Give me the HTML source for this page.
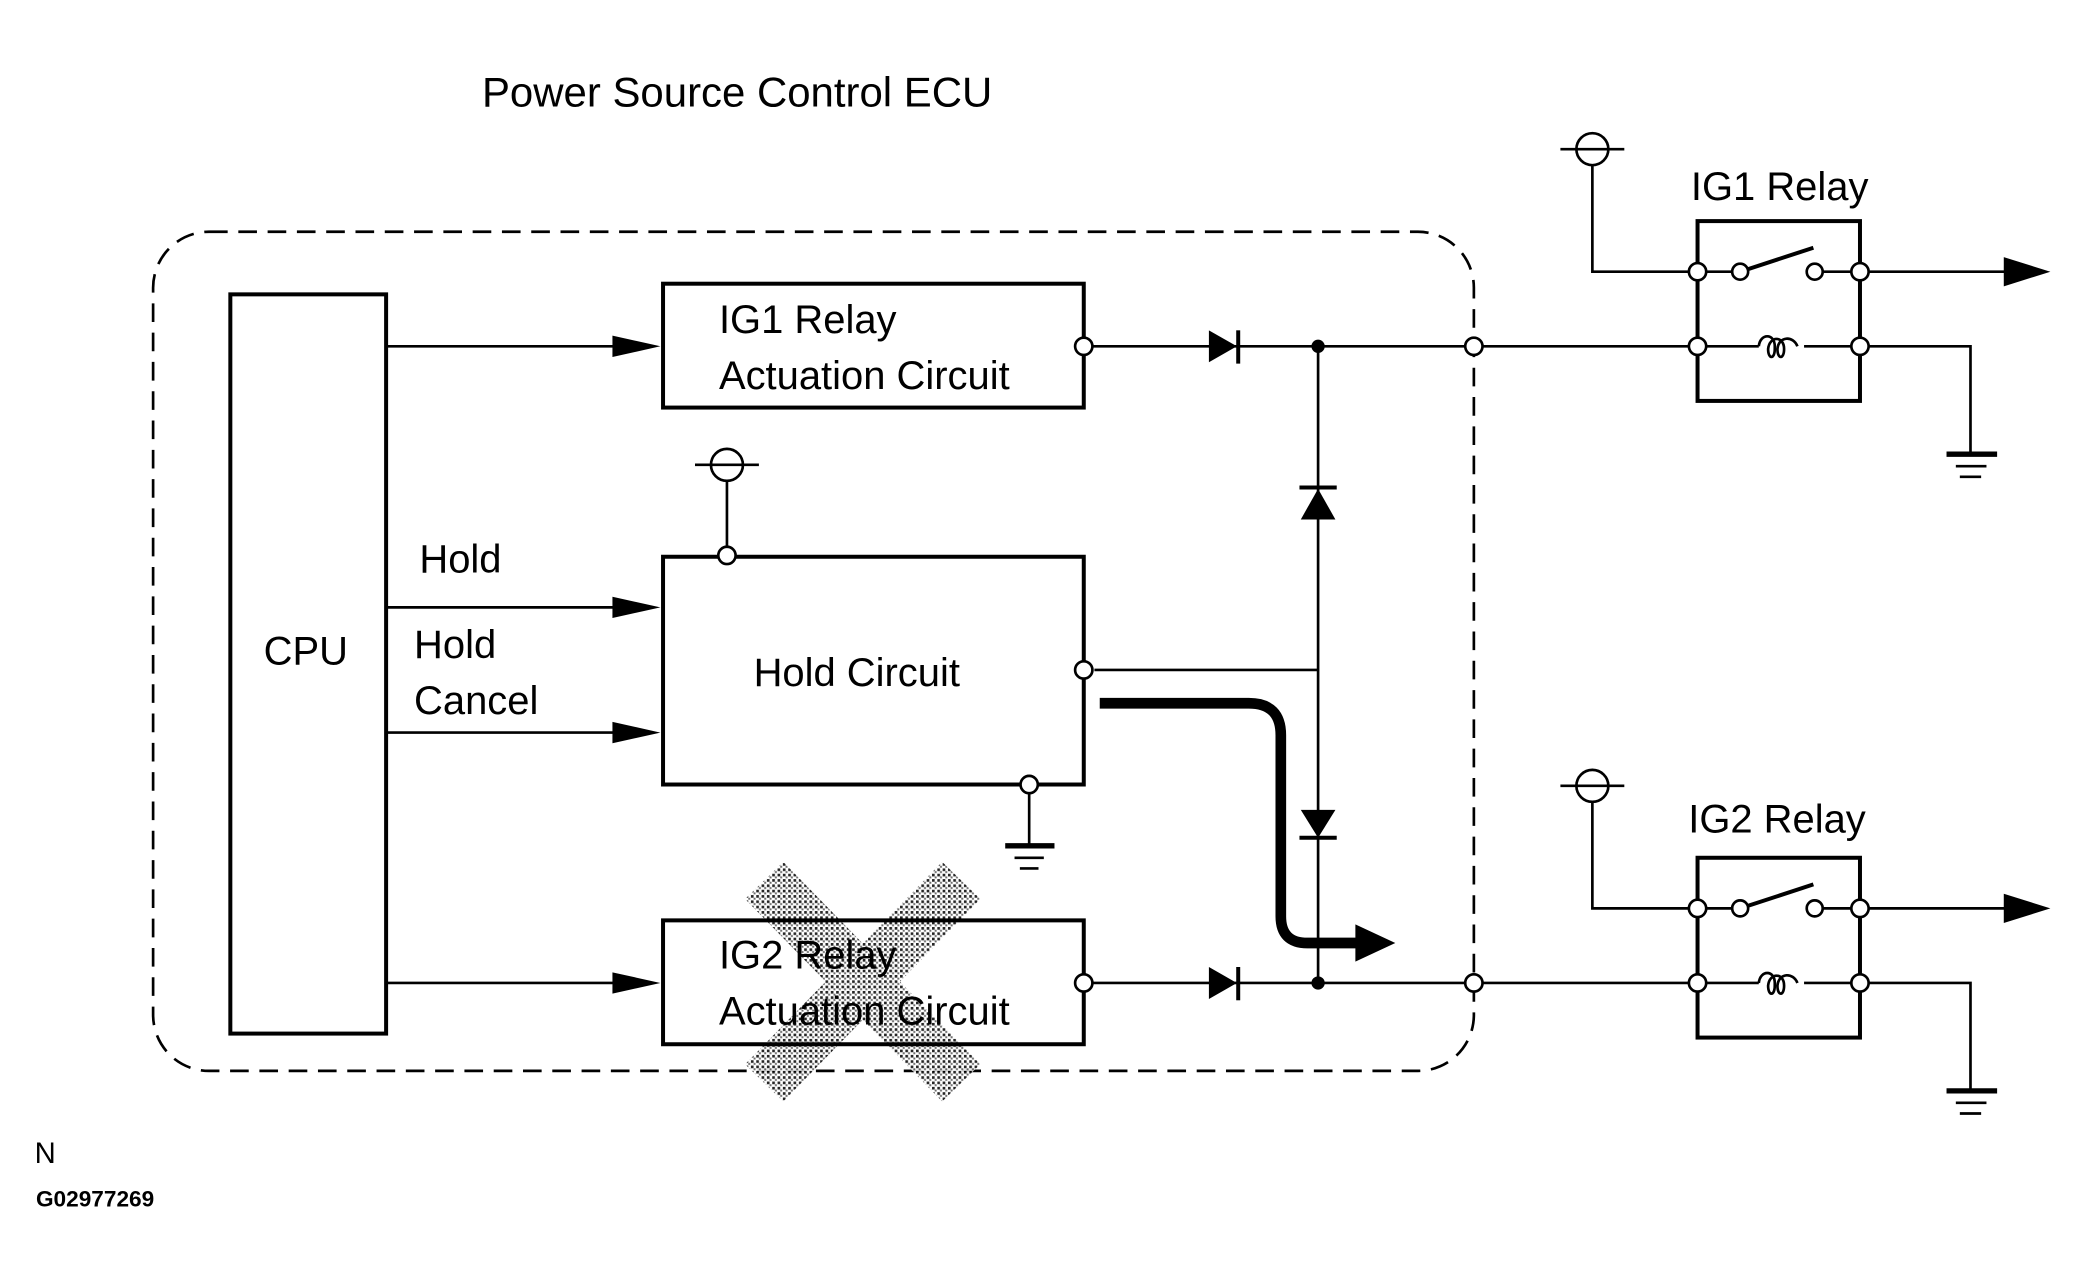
<!DOCTYPE html>
<html><head><meta charset="utf-8"><style>
html,body{margin:0;padding:0;background:#fff;}
svg{display:block;}
text{font-family:"Liberation Sans",sans-serif;fill:#000;}
</style></head><body>
<svg width="2077" height="1276" viewBox="0 0 1560 958" preserveAspectRatio="none" xmlns="http://www.w3.org/2000/svg">
<defs>
<pattern id="dots" width="4" height="4" patternUnits="userSpaceOnUse">
<rect width="4" height="4" fill="#fff"/>
<rect x="0" y="0" width="2" height="2" fill="#000"/>
<rect x="2" y="2" width="1.5" height="1.5" fill="#555"/>
</pattern>
</defs>
<rect width="1560" height="958" fill="#fff"/>
<text x="362" y="80" font-size="31.5">Power Source Control ECU</text>
<rect x="115" y="174" width="992" height="630" rx="42" fill="none" stroke="#000" stroke-width="2" stroke-dasharray="14,8"/>

<g opacity="0.85">
<line x1="574" y1="661" x2="722" y2="813" stroke="url(#dots)" stroke-width="40"/>
<line x1="722" y1="661" x2="574" y2="813" stroke="url(#dots)" stroke-width="40"/>
</g>

<g fill="none" stroke="#000">
<rect x="173" y="221" width="117" height="555" stroke-width="3"/>
<rect x="498" y="213" width="316" height="93" stroke-width="3"/>
<rect x="498" y="418" width="316" height="171" stroke-width="3"/>
<rect x="498" y="691" width="316" height="93" stroke-width="3"/>
<g stroke-width="2">
<line x1="290" y1="260" x2="470" y2="260"/>
<line x1="290" y1="456" x2="470" y2="456"/>
<line x1="290" y1="550" x2="470" y2="550"/>
<line x1="290" y1="738" x2="470" y2="738"/>
<line x1="814" y1="260" x2="1275" y2="260"/>
<line x1="814" y1="738" x2="1275" y2="738"/>
<line x1="822" y1="503" x2="990" y2="503"/>
<line x1="990" y1="260" x2="990" y2="738"/>
<line x1="522" y1="349" x2="570" y2="349"/>
<line x1="546" y1="361" x2="546" y2="412"/>
<line x1="773" y1="596" x2="773" y2="634"/>
<line x1="1172" y1="112" x2="1220" y2="112"/>
<polyline points="1196,124 1196,204 1275,204"/>
<line x1="1397" y1="204" x2="1510" y2="204"/>
<polyline points="1397,260 1480,260 1480,340"/>
<line x1="1275" y1="204" x2="1307" y2="204"/>
<line x1="1363" y1="204" x2="1397" y2="204"/>
<line x1="1275" y1="260" x2="1321" y2="260"/>
<line x1="1355" y1="260" x2="1397" y2="260"/>
<line x1="1172" y1="590" x2="1220" y2="590"/>
<polyline points="1196,602 1196,682 1275,682"/>
<line x1="1397" y1="682" x2="1510" y2="682"/>
<polyline points="1397,738 1480,738 1480,818"/>
<line x1="1275" y1="682" x2="1307" y2="682"/>
<line x1="1363" y1="682" x2="1397" y2="682"/>
<line x1="1275" y1="738" x2="1321" y2="738"/>
<line x1="1355" y1="738" x2="1397" y2="738"/>
</g>
<rect x="1275" y="166" width="122" height="135" stroke-width="3"/>
<rect x="1275" y="644" width="122" height="135" stroke-width="3"/>
<line x1="1307" y1="204" x2="1362" y2="186" stroke-width="3"/>
<line x1="1307" y1="682" x2="1362" y2="664" stroke-width="3"/>
<path d="M1321,260 c1,-10 12,-10 12,0 v2 c0,8 -5,8 -5,0 c1,-10 12,-10 12,0 c0,8 -5,8 -5,0 c1,-10 12,-10 15,-2" stroke-width="2"/>
<path d="M1321,738 c1,-10 12,-10 12,0 v2 c0,8 -5,8 -5,0 c1,-10 12,-10 12,0 c0,8 -5,8 -5,0 c1,-10 12,-10 15,-2" stroke-width="2"/>
<g stroke-width="2">
<line x1="762" y1="644" x2="784" y2="644"/><line x1="766" y1="652" x2="780" y2="652"/>
<line x1="1469" y1="350" x2="1492" y2="350"/><line x1="1472" y1="358" x2="1488" y2="358"/>
<line x1="1469" y1="828" x2="1492" y2="828"/><line x1="1472" y1="836" x2="1488" y2="836"/>
</g>
<g stroke-width="4">
<line x1="755" y1="635" x2="792" y2="635"/>
<line x1="1462" y1="341" x2="1500" y2="341"/>
<line x1="1462" y1="819" x2="1500" y2="819"/>
</g>
<path d="M826,528 H938 Q962,528 962,552 V688 Q962,708 982,708 H1020" stroke-width="8"/>
<line x1="930" y1="248" x2="930" y2="273" stroke-width="3"/>
<line x1="930" y1="726" x2="930" y2="751" stroke-width="3"/>
<line x1="976" y1="366" x2="1004" y2="366" stroke-width="3"/>
<line x1="976" y1="629" x2="1004" y2="629" stroke-width="3"/>
</g>
<g fill="#000">
<polygon points="460,252 496,260 460,268"/>
<polygon points="460,448 496,456 460,464"/>
<polygon points="460,542 496,550 460,558"/>
<polygon points="460,730 496,738 460,746"/>
<polygon points="908,248 929,260 908,272"/>
<polygon points="908,726 929,738 908,750"/>
<polygon points="977,390 990,367 1003,390"/>
<polygon points="977,608 990,629 1003,608"/>
<polygon points="1018,694 1048,708 1018,722"/>
<polygon points="1505,193 1540,204 1505,215"/>
<polygon points="1505,671 1540,682 1505,693"/>
<circle cx="990" cy="260" r="5"/>
<circle cx="990" cy="738" r="5"/>
</g>
<g fill="#fff" stroke="#000" stroke-width="2">
<circle cx="546" cy="349" r="12"/>
<circle cx="1196" cy="112" r="12"/>
<circle cx="1196" cy="590" r="12"/>
<line x1="534" y1="349" x2="558" y2="349"/>
<line x1="1184" y1="112" x2="1208" y2="112"/>
<line x1="1184" y1="590" x2="1208" y2="590"/>
<circle cx="546" cy="417" r="6.5"/>
<circle cx="773" cy="589" r="6.5"/>
<circle cx="814" cy="260" r="6.5"/>
<circle cx="814" cy="503" r="6.5"/>
<circle cx="814" cy="738" r="6.5"/>
<circle cx="1107" cy="260" r="6.5"/>
<circle cx="1107" cy="738" r="6.5"/>
<circle cx="1275" cy="204" r="6.5"/><circle cx="1275" cy="260" r="6.5"/>
<circle cx="1397" cy="204" r="6.5"/><circle cx="1397" cy="260" r="6.5"/>
<circle cx="1307" cy="204" r="6"/><circle cx="1363" cy="204" r="6"/>
<circle cx="1275" cy="682" r="6.5"/><circle cx="1275" cy="738" r="6.5"/>
<circle cx="1397" cy="682" r="6.5"/><circle cx="1397" cy="738" r="6.5"/>
<circle cx="1307" cy="682" r="6"/><circle cx="1363" cy="682" r="6"/>
</g>
<g font-size="30">
<text x="198" y="499">CPU</text>
<text x="540" y="250">IG1 Relay</text>
<text x="540" y="292">Actuation Circuit</text>
<text x="566" y="515">Hold Circuit</text>
<text x="540" y="727">IG2 Relay</text>
<text x="540" y="769">Actuation Circuit</text>
<text x="315" y="430">Hold</text>
<text x="311" y="494">Hold</text>
<text x="311" y="536">Cancel</text>
<text x="1270" y="150">IG1 Relay</text>
<text x="1268" y="625">IG2 Relay</text>
</g>
<text x="26" y="873" font-size="22">N</text>
<text x="27" y="906" font-size="17" font-weight="bold">G02977269</text>
</svg>
</body></html>
